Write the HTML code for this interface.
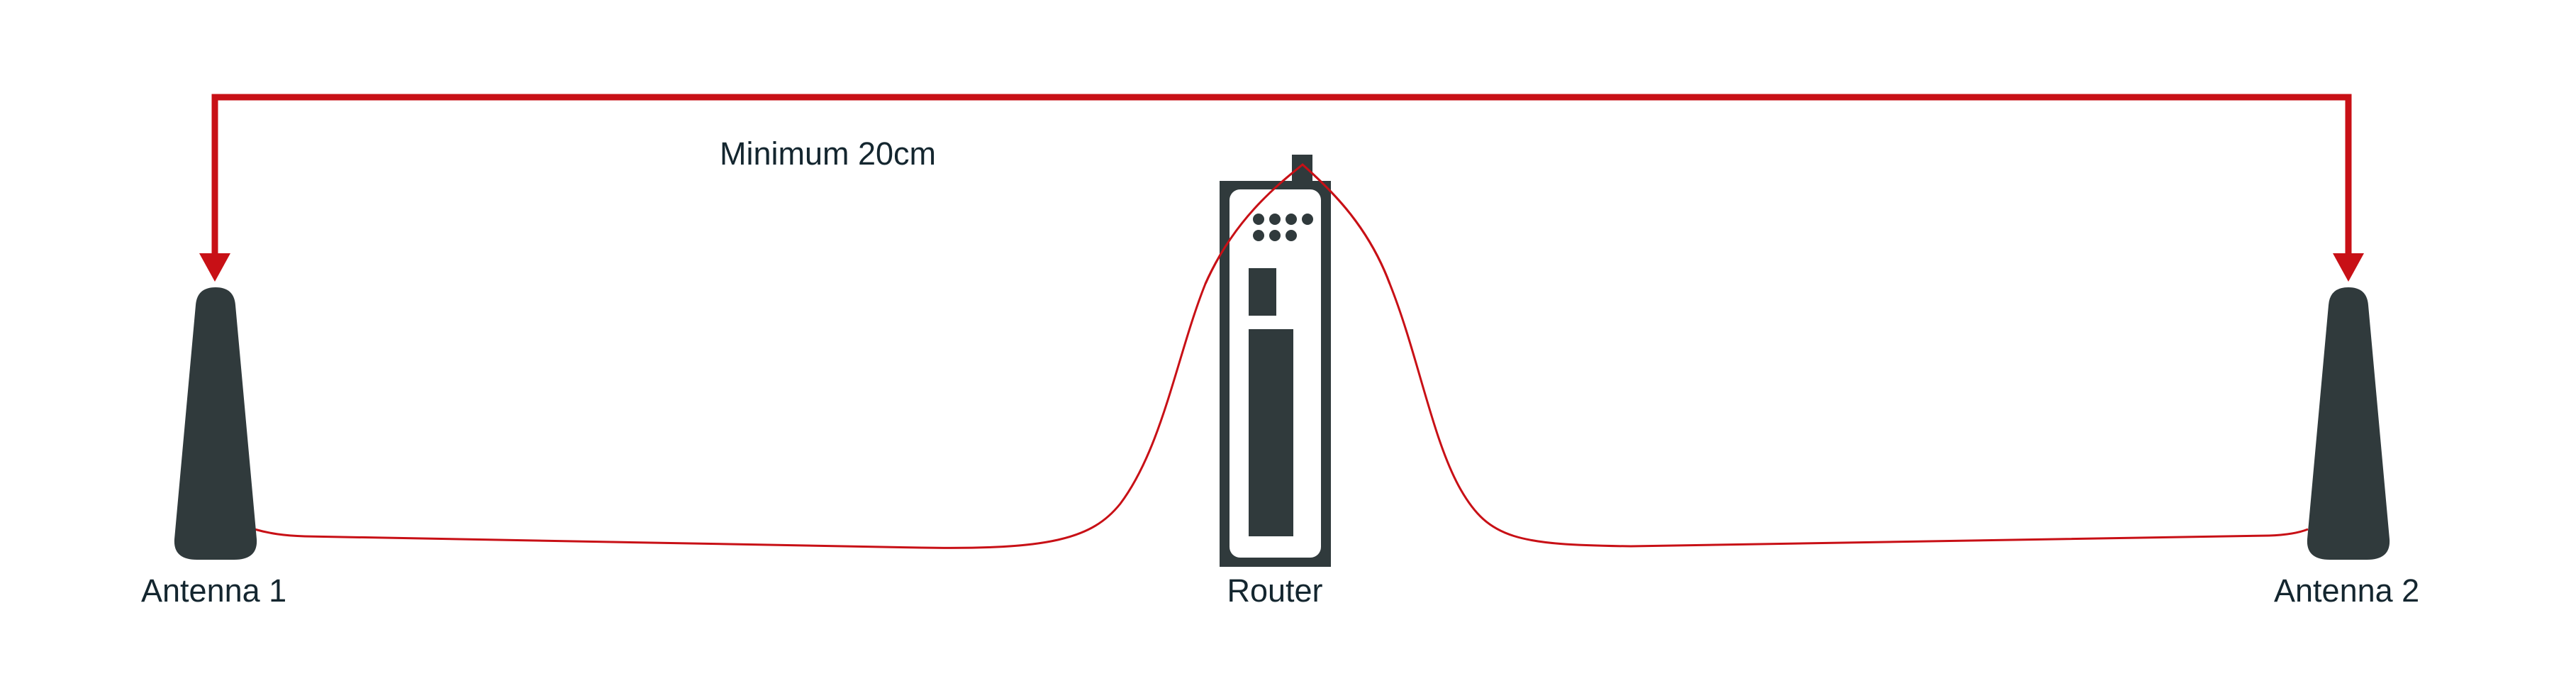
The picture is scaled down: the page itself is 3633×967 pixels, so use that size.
<!DOCTYPE html>
<html><head><meta charset="utf-8"><style>
html,body{margin:0;padding:0;background:#fff;}
svg{display:block;}
text{font-family:"Liberation Sans",sans-serif;font-size:45px;fill:#14262f;}
</style></head><body>
<svg width="3633" height="967" viewBox="0 0 3633 967" xmlns="http://www.w3.org/2000/svg">
<path d="M303,362 L303,137 L3312,137 L3312,362" fill="none" stroke="#c81016" stroke-width="9"/>
<polygon points="281,357 325,357 303,397" fill="#c81016"/>
<polygon points="3290,357 3334,357 3312,397" fill="#c81016"/>
<text x="1015" y="232">Minimum 20cm</text>
<path d="M359,746 C380,752 400,755 430,756 L1300,772 C1480,775 1540,760 1580,710 C1640,630 1660,500 1700,400 C1740,310 1800,262 1837,232" fill="none" stroke="#c81016" stroke-width="3"/>
<path d="M1837,232 C1880,270 1930,320 1960,400 C2000,500 2020,620 2060,690 C2100,760 2140,768 2300,770 L3200,755 C3230,754 3245,750 3255,746" fill="none" stroke="#c81016" stroke-width="3"/>
<path d="M276,430 Q278,405 304,405 Q330,405 332,430 L362,760 Q364,789 330,789 L278,789 Q244,789 246,760 Z" fill="#303a3c"/>
<text x="199" y="848">Antenna 1</text>
<path d="M3284,430 Q3286,405 3312,405 Q3338,405 3340,430 L3370,760 Q3372,789 3338,789 L3286,789 Q3252,789 3254,760 Z" fill="#303a3c"/>
<text x="3207" y="848">Antenna 2</text>
<rect x="1822" y="218" width="29" height="40" fill="#303a3c"/>
<rect x="1720" y="255" width="157" height="544" fill="#303a3c"/>
<rect x="1734" y="267" width="129" height="519" rx="15" fill="#fff"/>
<g fill="#303a3c">
<circle cx="1775" cy="309" r="8"/><circle cx="1798" cy="309" r="8"/><circle cx="1821" cy="309" r="8"/><circle cx="1844" cy="309" r="8"/>
<circle cx="1775" cy="332" r="8"/><circle cx="1798" cy="332" r="8"/><circle cx="1821" cy="332" r="8"/>
<rect x="1761" y="378" width="39" height="67"/>
<rect x="1761" y="464" width="63" height="292"/>
</g>
<path d="M1700,400 C1740,310 1800,262 1837,232 C1880,270 1930,320 1960,400" fill="none" stroke="#c81016" stroke-width="3"/>
<text x="1798" y="848" text-anchor="middle">Router</text>
</svg>
</body></html>
